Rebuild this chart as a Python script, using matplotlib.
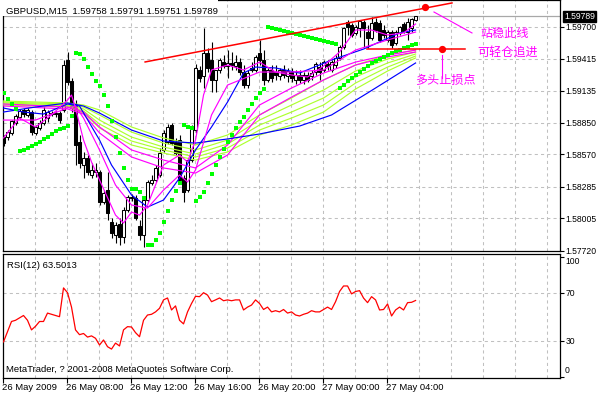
import matplotlib
matplotlib.use("Agg")
import numpy as np
import matplotlib.pyplot as plt
import matplotlib.transforms as mtrans
from matplotlib.patches import Rectangle

plt.rcParams['font.family'] = ['Liberation Sans', 'DejaVu Sans']
plt.rcParams['font.size'] = 6.8

# GBPUSD M15, 26 May 04:00 .. 27 May 05:45 (104 bars)
opens = [1.58724, 1.58724, 1.58760, 1.58848, 1.58901, 1.58963, 1.58919, 1.58945, 1.58760, 1.58804,
         1.58848, 1.58892, 1.58936, 1.58927, 1.58936, 1.58963, 1.59404, 1.59219, 1.59016, 1.58680,
         1.58477, 1.58539, 1.58389, 1.58415, 1.58415, 1.58150, 1.58256, 1.57974, 1.57859, 1.57956,
         1.57841, 1.58080, 1.58186, 1.58186, 1.57938, 1.57859, 1.58168, 1.58318, 1.58345, 1.58389,
         1.58610, 1.58680, 1.58830, 1.58680, 1.58698, 1.58362, 1.58256, 1.58521, 1.58786, 1.59316,
         1.59263, 1.59466, 1.59404, 1.59228, 1.59316, 1.59386, 1.59351, 1.59378, 1.59351, 1.59386,
         1.59298, 1.59183, 1.59334, 1.59316, 1.59466, 1.59404, 1.59228, 1.59316, 1.59298, 1.59263,
         1.59316, 1.59263, 1.59298, 1.59228, 1.59272, 1.59228, 1.59272, 1.59263, 1.59298, 1.59342,
         1.59316, 1.59369, 1.59316, 1.59360, 1.59422, 1.59519, 1.59740, 1.59713, 1.59643, 1.59687,
         1.59740, 1.59651, 1.59598, 1.59740, 1.59731, 1.59669, 1.59581, 1.59651, 1.59554, 1.59643,
         1.59722, 1.59651, 1.59687, 1.59758]
highs = [1.58742, 1.58786, 1.58874, 1.58927, 1.58972, 1.58980, 1.58980, 1.58963, 1.58830, 1.58874,
         1.58989, 1.58963, 1.58954, 1.58954, 1.58954, 1.59404, 1.59475, 1.59245, 1.59051, 1.58742,
         1.58592, 1.58565, 1.58495, 1.58495, 1.58433, 1.58256, 1.58415, 1.58009, 1.57974, 1.58009,
         1.58106, 1.58212, 1.58221, 1.58212, 1.57991, 1.58203, 1.58345, 1.58389, 1.58477, 1.58627,
         1.58786, 1.58839, 1.58848, 1.58716, 1.58742, 1.58389, 1.58539, 1.58830, 1.59369, 1.59351,
         1.59687, 1.59510, 1.59563, 1.59316, 1.59422, 1.59448, 1.59492, 1.59475, 1.59448, 1.59422,
         1.59360, 1.59316, 1.59386, 1.59448, 1.59581, 1.59492, 1.59334, 1.59360, 1.59360, 1.59334,
         1.59360, 1.59334, 1.59334, 1.59316, 1.59316, 1.59298, 1.59298, 1.59316, 1.59386, 1.59386,
         1.59404, 1.59404, 1.59404, 1.59448, 1.59537, 1.59696, 1.59757, 1.59731, 1.59713, 1.59757,
         1.59757, 1.59713, 1.59784, 1.59775, 1.59757, 1.59713, 1.59669, 1.59669, 1.59669, 1.59704,
         1.59740, 1.59775, 1.59775, 1.59791]
lows = [1.58645, 1.58698, 1.58742, 1.58830, 1.58883, 1.58901, 1.58901, 1.58742, 1.58742, 1.58786,
        1.58830, 1.58857, 1.58910, 1.58901, 1.58848, 1.58945, 1.59183, 1.58945, 1.58477, 1.58451,
        1.58362, 1.58389, 1.58362, 1.58371, 1.58124, 1.58133, 1.57991, 1.57832, 1.57788, 1.57771,
        1.57788, 1.58062, 1.58159, 1.57991, 1.57815, 1.57753, 1.58150, 1.58300, 1.58327, 1.58371,
        1.58592, 1.58663, 1.58654, 1.58565, 1.58318, 1.58150, 1.58239, 1.58504, 1.58760, 1.59210,
        1.59157, 1.59298, 1.59122, 1.59122, 1.59289, 1.59334, 1.59245, 1.59316, 1.59316, 1.59272,
        1.59157, 1.59157, 1.59298, 1.59298, 1.59360, 1.59183, 1.59210, 1.59210, 1.59228, 1.59228,
        1.59245, 1.59210, 1.59210, 1.59192, 1.59201, 1.59192, 1.59210, 1.59228, 1.59272, 1.59228,
        1.59298, 1.59316, 1.59298, 1.59334, 1.59404, 1.59501, 1.59625, 1.59607, 1.59625, 1.59607,
        1.59519, 1.59510, 1.59581, 1.59651, 1.59563, 1.59598, 1.59563, 1.59510, 1.59537, 1.59625,
        1.59643, 1.59581, 1.59651, 1.59751]
closes = [1.58671, 1.58768, 1.58866, 1.58910, 1.58954, 1.58927, 1.58963, 1.58768, 1.58813, 1.58848,
          1.58963, 1.58945, 1.58927, 1.58936, 1.58874, 1.59360, 1.59210, 1.58980, 1.58654, 1.58495,
          1.58539, 1.58415, 1.58433, 1.58433, 1.58150, 1.58230, 1.58053, 1.57877, 1.57947, 1.57841,
          1.58080, 1.58194, 1.58194, 1.58009, 1.57859, 1.58168, 1.58327, 1.58345, 1.58451, 1.58583,
          1.58760, 1.58813, 1.58671, 1.58583, 1.58345, 1.58239, 1.58521, 1.58813, 1.59334, 1.59245,
          1.59466, 1.59334, 1.59228, 1.59316, 1.59404, 1.59351, 1.59378, 1.59360, 1.59386, 1.59298,
          1.59183, 1.59289, 1.59316, 1.59431, 1.59404, 1.59228, 1.59316, 1.59245, 1.59272, 1.59316,
          1.59272, 1.59307, 1.59245, 1.59272, 1.59228, 1.59272, 1.59228, 1.59289, 1.59369, 1.59298,
          1.59386, 1.59351, 1.59386, 1.59422, 1.59519, 1.59687, 1.59696, 1.59625, 1.59696, 1.59749,
          1.59687, 1.59598, 1.59731, 1.59669, 1.59581, 1.59625, 1.59651, 1.59537, 1.59651, 1.59696,
          1.59660, 1.59740, 1.59766, 1.59789]

# parabolic SAR, one dot per bar
sar = [1.59113, 1.59060, 1.59016, 1.58972, 1.58601, 1.58610, 1.58627, 1.58645, 1.58663, 1.58680,
       1.58707, 1.58724, 1.58751, 1.58777, 1.58795, 1.58804, 1.58821, 1.58910, 1.59466, 1.59457,
       1.59413, 1.59342, 1.59281, 1.59219, 1.59175, 1.59095, 1.58998, 1.58866, 1.58724, 1.58583,
       1.58451, 1.58345, 1.58265, 1.58265, 1.58239, 1.58186, 1.57771, 1.57771, 1.57815, 1.57877,
       1.57974, 1.58071, 1.58168, 1.58247, 1.58318, 1.58830, 1.58813, 1.58804, 1.58159, 1.58194,
       1.58239, 1.58318, 1.58398, 1.58477, 1.58548, 1.58618, 1.58680, 1.58742, 1.58804, 1.58857,
       1.58901, 1.58963, 1.59016, 1.59069, 1.59113, 1.59148, 1.59696, 1.59687, 1.59678, 1.59669,
       1.59660, 1.59651, 1.59643, 1.59634, 1.59625, 1.59616, 1.59607, 1.59598, 1.59590, 1.59581,
       1.59572, 1.59563, 1.59554, 1.59545, 1.59157, 1.59183, 1.59219, 1.59245, 1.59272, 1.59298,
       1.59325, 1.59351, 1.59378, 1.59395, 1.59413, 1.59431, 1.59448, 1.59466, 1.59484, 1.59492,
       1.59510, 1.59519, 1.59537, 1.59545]

rsi = [29, 37.5, 46, 47, 49, 51, 47, 39, 42, 46,
       46, 53, 52, 51, 50, 74, 70, 58, 39, 35,
       36, 33, 34, 32, 26.4, 30.6, 25, 23, 28, 25.6,
       39, 41.7, 41.4, 36.7, 33.3, 47, 51.4, 52, 54, 57,
       64, 65.6, 55.6, 59, 47, 44, 54, 61, 67, 66.7,
       70, 68, 62.5, 64, 65.6, 63.3, 64, 63.3, 64, 64,
       55.6, 58, 59.7, 64, 61, 56, 58, 54, 55, 54,
       56, 53, 54, 51.4, 50.6, 52, 53, 55, 54, 54,
       56, 58, 56, 62.5, 71, 75.6, 75.6, 69, 71, 71.7,
       65.5, 61.7, 66.7, 64, 55.6, 56, 60.6, 50.6, 55.6, 58,
       55.6, 61.7, 62, 63.5013]

# moving averages, read at a few bars
ma_fast_x = [0, 4, 8, 12, 16, 17, 18, 20, 22, 24, 28, 30, 32, 34, 36, 40, 44, 46, 48, 50, 52,
             56, 60, 64, 68, 72, 76, 80, 84, 88, 92, 96, 100, 103]
ma_fast = [1.58716, 1.58892, 1.58813, 1.58919, 1.59051, 1.59095, 1.58980, 1.58698, 1.58504, 1.58345,
           1.58035, 1.57965, 1.58062, 1.58035, 1.58124, 1.58477, 1.58565, 1.58504, 1.58698, 1.59095,
           1.59316, 1.59360, 1.59316, 1.59386, 1.59298, 1.59272, 1.59254, 1.59351, 1.59475, 1.59669,
           1.59669, 1.59625, 1.59643, 1.59722]
ma_mid_x = [0, 8, 16, 18, 20, 24, 28, 32, 36, 40, 44, 46, 48, 52, 56, 64, 72, 80, 88, 96, 103]
ma_mid = [1.58874, 1.58874, 1.58980, 1.58998, 1.58892, 1.58610, 1.58300, 1.58124, 1.58097, 1.58256,
          1.58389, 1.58327, 1.58433, 1.58919, 1.59183, 1.59298, 1.59298, 1.59316, 1.59492, 1.59581,
          1.59651]

ribbon_x = [0, 16, 20, 24, 32, 40, 48, 56, 64, 72, 80, 88, 96, 103]
green_1 = [1.59042, 1.59025, 1.59007, 1.58963, 1.58813, 1.58716, 1.58654, 1.58742, 1.58919, 1.59069,
           1.59228, 1.59360, 1.59448, 1.59492]
green_2 = [1.59033, 1.59016, 1.58989, 1.58919, 1.58768, 1.58671, 1.58610, 1.58698, 1.58874, 1.59007,
           1.59139, 1.59307, 1.59413, 1.59475]
green_3 = [1.59025, 1.59007, 1.58972, 1.58874, 1.58724, 1.58636, 1.58574, 1.58663, 1.58830, 1.58945,
           1.59069, 1.59254, 1.59378, 1.59457]
green_4 = [1.59016, 1.58998, 1.58954, 1.58839, 1.58689, 1.58610, 1.58548, 1.58627, 1.58786, 1.58892,
           1.59007, 1.59201, 1.59342, 1.59439]
green_5 = [1.59007, 1.58989, 1.58936, 1.58804, 1.58654, 1.58583, 1.58521, 1.58592, 1.58742, 1.58830,
           1.58945, 1.59148, 1.59307, 1.59422]
magenta_3 = [1.59016, 1.58989, 1.58945, 1.58813, 1.58610, 1.58521, 1.58451, 1.58654, 1.59007, 1.59157,
             1.59289, 1.59386, 1.59448, 1.59492]
magenta_4 = [1.58998, 1.58972, 1.58927, 1.58760, 1.58548, 1.58451, 1.58406, 1.58565, 1.58919, 1.59077,
             1.59228, 1.59360, 1.59431, 1.59475]

blue_fast_x = [0, 5, 10, 16, 19, 24, 27, 32, 36, 40, 44, 48, 52, 56, 60, 63, 68, 74, 82, 90, 99, 103]
blue_fast = [1.58980, 1.58945, 1.58927, 1.59016, 1.58998, 1.58698, 1.58477, 1.58212, 1.58106, 1.58168,
             1.58362, 1.58610, 1.58813, 1.59033, 1.59289, 1.59342, 1.59334, 1.59289, 1.59404, 1.59501,
             1.59643, 1.59669]
blue_slow_x = [0, 8, 16, 20, 24, 32, 40, 48, 56, 64, 74, 82, 91, 103]
blue_slow = [1.58945, 1.58989, 1.59025, 1.58998, 1.58936, 1.58786, 1.58689, 1.58671, 1.58707, 1.58751,
             1.58821, 1.58919, 1.59113, 1.59378]

# hand-drawn objects
trend_x = [35.4, 112.1]
trend_y = [1.59387, 1.59908]
trend_dot = (105.4, 1.59872)
stop_x = [90.9, 115.4]
stop_price = 1.59501
stop_dot_x = 109.6

price_ticks = [1.57720, 1.58005, 1.58285, 1.58570, 1.58850, 1.59135, 1.59415, 1.59700]
time_tick_bars = [0, 16, 32, 48, 64, 80, 96]
time_labels = ['26 May 2009', '26 May 08:00', '26 May 12:00', '26 May 16:00',
               '26 May 20:00', '27 May 00:00', '27 May 04:00']
bid = 1.59789

W, H = 598, 395
fig = plt.figure(figsize=(W / 100, H / 100), dpi=100)


def px_axes(x0, y0, x1, y1):
    return fig.add_axes([x0 / W, 1 - y1 / H, (x1 - x0) / W, (y1 - y0) / H])


ax = px_axes(2.7, 0, 560, 251)
ax_rsi = px_axes(2.7, 254, 560, 378)

xlim = (-0.2, 139.1)
grid_kw = dict(color='#C0C0C0', ls=(0, (3, 3)), lw=0.75, zorder=0)
axis_fs = 6.2

for a in (ax, ax_rsi):
    a.set_xlim(*xlim)
    for s in a.spines.values():
        s.set_color('black')
        s.set_linewidth(0.9)
    for b in range(8, 140, 8):
        a.axvline(b - 0.2, **grid_kw)

# ---- main panel
ax.set_ylim(1.57718, 1.59934)
for p in price_ticks[1:]:
    ax.axhline(p, **grid_kw)
ax.axhline(bid, color='#A8A8A8', lw=0.9, zorder=1)

bars = np.arange(len(closes))
for i in bars:
    o, h, l, c = opens[i], highs[i], lows[i], closes[i]
    ax.vlines(i, l, h, color='black', lw=0.8, zorder=2)
    lo, hi = min(o, c), max(o, c)
    face = 'white' if c >= o else 'black'
    ax.add_patch(Rectangle((i - 0.27, lo), 0.54, max(hi - lo, 0.00002),
                           facecolor=face, edgecolor='black', lw=0.75, zorder=3))

line_kw = dict(lw=0.85, zorder=4)
for ys in (green_5, green_4, green_3, green_2, green_1):
    ax.plot(ribbon_x, ys, color='#ADFF2F', **line_kw)
ax.plot(ribbon_x, magenta_4, color='#FF00FF', **line_kw)
ax.plot(ribbon_x, magenta_3, color='#FF00FF', **line_kw)
ax.plot(blue_slow_x, blue_slow, color='#0000FF', **line_kw)
ax.plot(blue_fast_x, blue_fast, color='#0000FF', **line_kw)
ax.plot(ma_mid_x, ma_mid, color='#FF00FF', **line_kw)
ax.plot(ma_fast_x, ma_fast, color='#FF00FF', **line_kw)

ax.plot(bars, sar, ls='none', marker='s', ms=2.7, mew=0, color='#00FF00', zorder=5)

ax.plot(trend_x, trend_y, color='red', lw=1.1, zorder=6)
ax.plot([trend_dot[0]], [trend_dot[1]], 'o', color='red', ms=4.2, zorder=7)
ax.plot(stop_x, [stop_price, stop_price], color='red', lw=1.1, zorder=6)
ax.plot([stop_dot_x], [stop_price], 'o', color='red', ms=4.2, zorder=7)
ax.plot([107.6, 117.1], [1.59828, 1.59643], color='#FF00FF', lw=0.8, zorder=6)
ax.plot([stop_dot_x, stop_dot_x], [1.59448, 1.59245], color='#FF00FF', lw=0.8, zorder=6)

cjk = ['Noto Sans CJK SC', 'DejaVu Sans']
ax.text(119.1, 1.59643, '站稳此线', family=cjk, fontsize=8.7, color='#FF00FF', va='center', zorder=8)
ax.text(118.4, 1.59475, '可轻仓追进', family=cjk, fontsize=8.7, color='#FF00FF', va='center', zorder=8)
ax.text(102.9, 1.59228, '多头止损点', family=cjk, fontsize=8.7, color='#FF00FF', va='center', zorder=8)

ax.yaxis.tick_right()
ax.set_yticks(price_ticks)
ax.set_yticklabels(['%.5f' % p for p in price_ticks])
ax.tick_params(axis='y', direction='out', length=3, width=0.8, pad=1.2, labelsize=axis_fs)
ax.set_xticks([])

blend = mtrans.blended_transform_factory(ax.transAxes, ax.transData)
ax.text(1.0075, bid, '%.5f' % bid, transform=blend, ha='left', va='center', color='white',
        fontsize=axis_fs, zorder=9, clip_on=False,
        bbox=dict(facecolor='black', edgecolor='black', pad=0.9))

# title strip
fig.add_artist(Rectangle((0, 1 - 15.5 / H), 218 / W, 15.5 / H, transform=fig.transFigure,
                         facecolor='white', edgecolor='none', zorder=5))
fig.text(6 / W, 1 - 11 / H, 'GBPUSD,M15  1.59758 1.59791 1.59751 1.59789',
         va='center', ha='left', fontsize=6.8, zorder=6)

# ---- RSI panel
ax_rsi.set_ylim(-1.1, 102.25)
for lvl in (30, 70):
    ax_rsi.axhline(lvl, **grid_kw)
ax_rsi.plot(bars, rsi, color='red', lw=0.9, zorder=3)
ax_rsi.yaxis.tick_right()
ax_rsi.set_yticks([0, 30, 70, 100])
ax_rsi.set_yticklabels(['', '30', '70', ''])
ax_rsi.tick_params(axis='y', direction='out', length=3, width=0.8, pad=1.2, labelsize=axis_fs)
fig.text(565 / W, 1 - 261.5 / H, '100', va='center', ha='left', fontsize=axis_fs)
fig.text(565 / W, 1 - 370.7 / H, '0', va='center', ha='left', fontsize=axis_fs)

ax_rsi.set_xticks([b - 0.2 for b in time_tick_bars])
ax_rsi.set_xticklabels([])
ax_rsi.tick_params(axis='x', direction='out', length=3.5, width=0.8)
for b, lab in zip(time_tick_bars, time_labels):
    fig.text((2.0 + 4 * b) / W, 1 - 387.5 / H, lab, va='center', ha='left', fontsize=6.8)

fig.text(7 / W, 1 - 265 / H, 'RSI(12) 63.5013', va='center', ha='left', fontsize=6.8)
fig.text(6 / W, 1 - 369 / H, 'MetaTrader, ? 2001-2008 MetaQuotes Software Corp.',
         va='center', ha='left', fontsize=6.8)

fig.savefig('out.png', dpi=100)
